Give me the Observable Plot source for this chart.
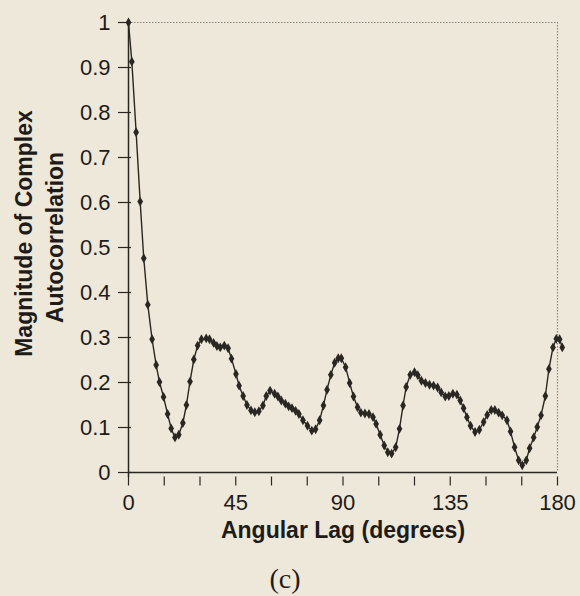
<!DOCTYPE html>
<html>
<head>
<meta charset="utf-8">
<script src="https://cdn.jsdelivr.net/npm/d3@7"></script>
<script src="https://cdn.jsdelivr.net/npm/@observablehq/plot@0.6"></script>
<style>
  html, body { margin: 0; padding: 0; background: #eee8da; }
  #chart { width: 580px; height: 596px; }
</style>
</head>
<body>
<div id="chart"></div>
<script>
// Angular lag (degrees) of each sample
const lag = [0, 1.4, 3.2, 4.9, 6.4, 8.1, 9.9, 11.6, 13.0, 14.7, 16.4, 17.9, 19.5, 21.1, 22.8, 24.3, 25.8, 27.4, 29.0, 30.6,
  32.6, 34.0, 35.7, 37.1, 38.5, 40.2, 41.8, 43.2, 45.1, 46.4, 48.1, 49.7, 51.4, 53.0, 54.7, 56.4, 57.8, 59.4,
  61.3, 62.7, 64.1, 65.8, 67.2, 68.6, 70.1, 71.5, 73.2, 75.1, 76.9, 78.5, 80.2, 81.8, 83.3, 84.9, 86.5, 88.0,
  89.3, 91.1, 92.8, 94.4, 96.1, 97.5, 99.2, 100.9, 102.6, 103.9, 105.6, 107.3, 108.8, 110.4, 112.1, 113.7, 115.2, 116.5,
  118.2, 120.0, 121.4, 122.9, 124.6, 126.3, 128.0, 129.7, 131.2, 132.9, 134.4, 136.1, 137.8, 139.2, 140.6, 142.0, 143.5, 145.4,
  147.2, 149.0, 150.5, 152.2, 153.7, 155.3, 156.8, 158.8, 160.3, 162.0, 163.7, 165.2, 166.9, 168.3, 170.0, 171.5, 173.1, 174.9, 176.4, 178.1, 179.5, 180.9, 182.0];
// Magnitude of complex autocorrelation
const mag = [1.0, 0.913, 0.756, 0.602, 0.476, 0.373, 0.296, 0.239, 0.201, 0.168, 0.130, 0.098, 0.078, 0.084, 0.110, 0.150, 0.202, 0.251, 0.282, 0.296,
  0.298, 0.296, 0.288, 0.281, 0.278, 0.282, 0.276, 0.253, 0.219, 0.193, 0.170, 0.150, 0.138, 0.134, 0.136, 0.149, 0.170, 0.182,
  0.175, 0.169, 0.160, 0.153, 0.147, 0.143, 0.137, 0.130, 0.116, 0.104, 0.093, 0.096, 0.116, 0.149, 0.184, 0.217, 0.244, 0.254,
  0.254, 0.234, 0.199, 0.169, 0.145, 0.133, 0.131, 0.130, 0.123, 0.108, 0.084, 0.060, 0.045, 0.042, 0.056, 0.097, 0.149, 0.190,
  0.217, 0.223, 0.216, 0.204, 0.199, 0.195, 0.193, 0.189, 0.178, 0.169, 0.170, 0.175, 0.173, 0.160, 0.143, 0.123, 0.104, 0.090,
  0.095, 0.112, 0.128, 0.139, 0.139, 0.133, 0.127, 0.116, 0.091, 0.056, 0.027, 0.016, 0.027, 0.054, 0.078, 0.101, 0.127, 0.170, 0.230, 0.278, 0.297, 0.296, 0.278];

const xTicks = [0, 15, 30, 45, 60, 75, 90, 105, 120, 135, 150, 165, 180];
const xTickLabels = [0, 45, 90, 135, 180];
const yTicks = [0, 0.1, 0.2, 0.3, 0.4, 0.5, 0.6, 0.7, 0.8, 0.9, 1];

const xTitle = "Angular Lag (degrees)";
const yTitle1 = "Magnitude of Complex";
const yTitle2 = "Autocorrelation";
const caption = "(c)";

const data = lag.map((x, i) => ({lag: x, mag: mag[i]}));

const ink = "#2a2622";
const sans = "'Liberation Sans', Arial, sans-serif";

const chart = Plot.plot({
  width: 580,
  height: 596,
  marginLeft: 128,
  marginRight: 23,
  marginTop: 22,
  marginBottom: 124,
  style: {background: "#eee8da", fontFamily: sans, overflow: "visible"},
  x: {domain: [0, 180], axis: null},
  y: {domain: [0, 1], axis: null},
  marks: [
    Plot.ruleY([1], {stroke: "#8a8580", strokeWidth: 1.2, strokeDasharray: "1.5,1.5"}),
    Plot.ruleX([180], {stroke: "#8a8580", strokeWidth: 1.2, strokeDasharray: "1.5,1.5"}),
    Plot.axisY(yTicks, {tickSize: 13, dx: 3, tickFormat: () => "", stroke: ink, strokeWidth: 1.2, label: null}),
    Plot.axisY(yTicks, {tickSize: 0, tickPadding: 18, fontSize: 22, fill: "#1e1b18", label: null, tickFormat: d => String(d)}),
    Plot.axisX(xTicks, {tickSize: 9, dy: 4.5, tickFormat: () => "", stroke: ink, strokeWidth: 1.2, label: null}),
    Plot.axisX(xTickLabels, {tickSize: 0, tickPadding: 22, fontSize: 22, fill: "#1e1b18", label: null}),
    Plot.ruleX([0], {stroke: ink, strokeWidth: 1.5, insetBottom: -5}),
    Plot.ruleY([0], {stroke: ink, strokeWidth: 1.5}),
    Plot.line(data, {x: "lag", y: "mag", stroke: ink, strokeWidth: 1.4}),
    Plot.dot(data, {x: "lag", y: "mag", symbol: "diamond", r: 3, fill: ink, stroke: "none"}),
    Plot.text([yTitle1], {text: d => d, frameAnchor: "left", textAnchor: "middle", rotate: -90, dx: -97, dy: -14, lineAnchor: "bottom", fontSize: 23, fontWeight: "bold", fill: "#1e1b18"}),
    Plot.text([yTitle2], {text: d => d, frameAnchor: "left", textAnchor: "middle", rotate: -90, dx: -66, dy: -10, lineAnchor: "bottom", fontSize: 23, fontWeight: "bold", fill: "#1e1b18"}),
    Plot.text([xTitle], {text: d => d, frameAnchor: "bottom", dy: 65, lineAnchor: "bottom", fontSize: 23, fontWeight: "bold", fill: "#1e1b18"}),
    Plot.text([caption], {text: d => d, frameAnchor: "bottom", dx: -58, dy: 115, lineAnchor: "bottom", fontSize: 28, fontFamily: "'Liberation Serif', 'Times New Roman', serif", fill: "#1e1b18"})
  ]
});
document.getElementById("chart").appendChild(chart);
</script>
</body>
</html>
